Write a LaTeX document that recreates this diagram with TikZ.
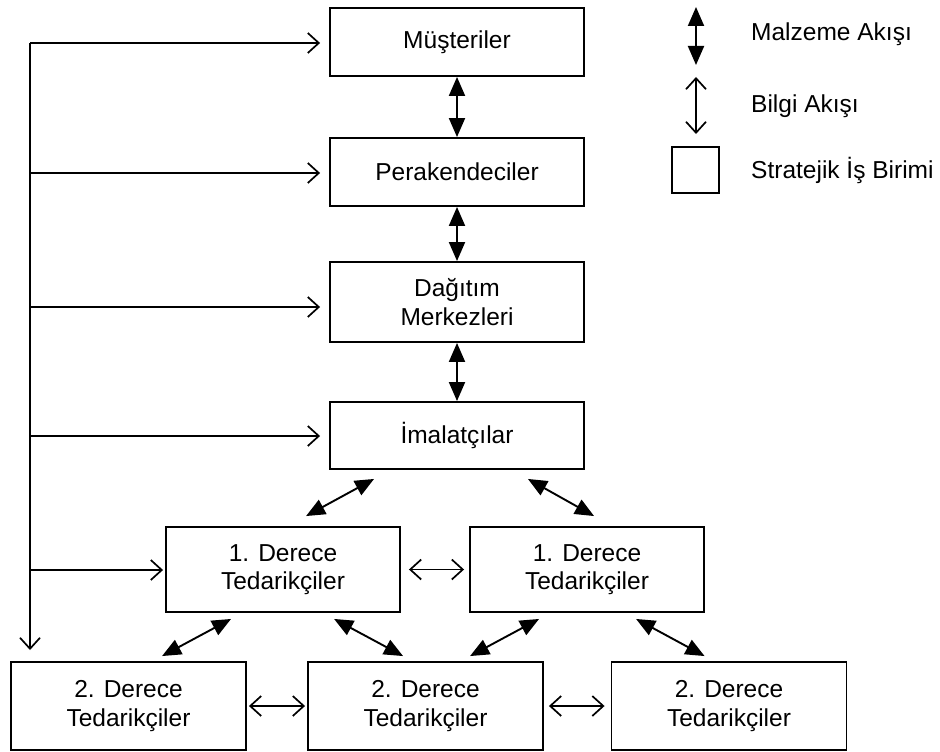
\documentclass[tikz,border=0pt]{standalone}
\usepackage{fontspec}
\setmainfont{Liberation Sans}
\usetikzlibrary{arrows.meta,calc}

\tikzset{
  unit/.style={draw, line width=1.9pt, align=center, inner sep=0pt,
    font=\fontsize{24.5}{28.5}\selectfont},
  topunit/.style={unit, minimum width=254pt},
  tierunit/.style={unit, minimum width=234pt, minimum height=85pt},
  lowunit/.style={unit, minimum width=235pt, minimum height=88pt},
  material/.style={line width=1.9pt, {Triangle[length=19pt,width=16pt]}-{Triangle[length=19pt,width=16pt]}},
  info/.style={line width=1.7pt, {Straight Barb[length=11pt,width=20pt]}-{Straight Barb[length=11pt,width=20pt]}},
  infoone/.style={line width=1.7pt, -{Straight Barb[length=11pt,width=20pt]}},
  legendtext/.style={anchor=west, inner sep=0pt, font=\fontsize{24.5}{28.5}\selectfont}
}

\begin{document}
\begin{tikzpicture}[x=1pt,y=-1pt]
\useasboundingbox (0,0) rectangle (940,752);

% main chain of units
\node[topunit, minimum height=68pt] (mus) at (457,42) {Müşteriler};
\node[topunit, minimum height=68pt] (per) at (457,172) {Perakendeciler};
\node[topunit, minimum height=80pt] (dag) at (457,302) {Dağıtım\\Merkezleri};
\node[topunit, minimum height=67pt] (ima) at (457,435.5) {İmalatçılar};

% first tier suppliers
\node[tierunit] (d1a) at (283,569.5) {1. Derece\\Tedarikçiler};
\node[tierunit] (d1b) at (587,569.5) {1. Derece\\Tedarikçiler};

% second tier suppliers
\node[lowunit] (d2a) at (128.5,706) {2. Derece\\Tedarikçiler};
\node[lowunit] (d2b) at (425.5,706) {2. Derece\\Tedarikçiler};
\node[lowunit] (d2c) at (729,706) {2. Derece\\Tedarikçiler};

% material flow between units
\draw[material] (mus.south) -- (per.north);
\draw[material] (per.south) -- (dag.north);
\draw[material] (dag.south) -- (ima.north);
\draw[material] ($(ima.south west)+(45,9)$) -- ($(d1a.north west)+(141,-10)$);
\draw[material] ($(ima.south east)+(-57,9)$) -- ($(d1b.north west)+(125,-10)$);
\draw[material] ($(d1a.south west)+(66,6)$) -- ($(d2a.north west)+(152,-5)$);
\draw[material] ($(d1a.south west)+(169,6)$) -- ($(d2b.north west)+(96,-5)$);
\draw[material] ($(d1b.south west)+(70,6)$) -- ($(d2b.north west)+(163,-5)$);
\draw[material] ($(d1b.south west)+(167,6)$) -- ($(d2c.north west)+(94,-5)$);

% information flow between neighbours
\draw[info, shorten <=8pt, shorten >=5pt] (d1a.east) -- (d1b.west);
\draw[info, shorten <=2pt, shorten >=2pt] (d2a.east) -- (d2b.west);
\draw[info, shorten <=5pt, shorten >=6pt] (d2b.east) -- (d2c.west);

% information trunk on the left
\coordinate (t1) at (30,43);
\coordinate (t2) at (30,173);
\coordinate (t3) at (30,307);
\coordinate (t4) at (30,436);
\coordinate (t5) at (30,570);
\coordinate (tend) at (30,650);
\draw[infoone] (t1) -- (tend);
\draw[infoone, shorten >=9pt] (t1) -- (t1 -| mus.west);
\draw[infoone, shorten >=9pt] (t2) -- (t2 -| per.west);
\draw[infoone, shorten >=9pt] (t3) -- (t3 -| dag.west);
\draw[infoone, shorten >=9pt] (t4) -- (t4 -| ima.west);
\draw[infoone, shorten >=2pt] (t5) -- (t5 -| d1a.west);

% legend
\coordinate (lm1) at (696,7);
\coordinate (lm2) at (696,65);
\coordinate (li1) at (696,77);
\coordinate (li2) at (696,134);
\draw[material] (lm1) -- (lm2);
\draw[info] (li1) -- (li2);
\node[draw, line width=1.9pt, minimum width=47pt, minimum height=46pt, inner sep=0pt] (lsq) at (695.5,170) {};
\node[legendtext] (lt1) at (751,34) {Malzeme Akışı};
\node[legendtext] (lt2) at (751,106) {Bilgi Akışı};
\node[legendtext] (lt3) at (751,170) {Stratejik İş Birimi};
\end{tikzpicture}
\end{document}
